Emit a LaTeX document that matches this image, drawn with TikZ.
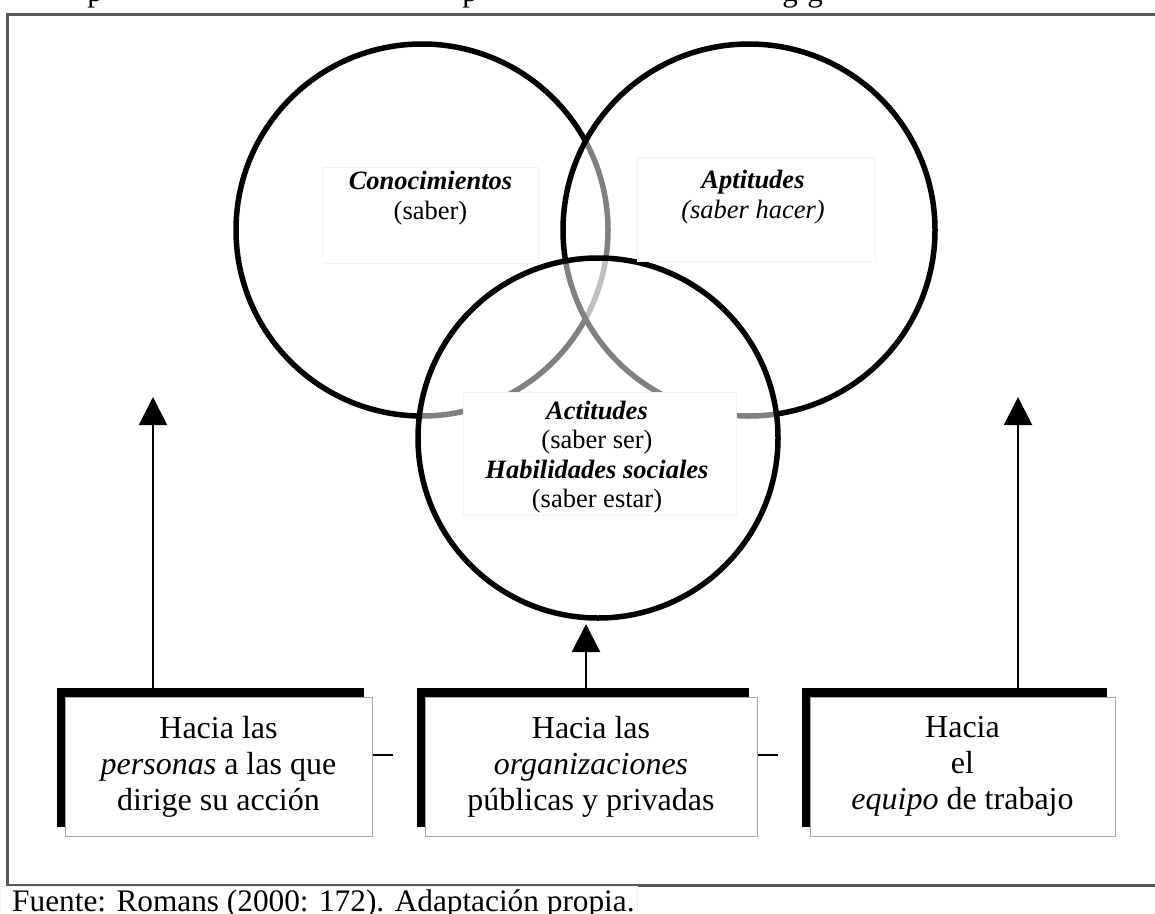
\documentclass[tikz,border=0pt]{standalone}
\usepackage{fontspec}
\setmainfont{Liberation Serif}
\usetikzlibrary{shadows,arrows.meta}
\begin{document}
\begin{tikzpicture}[x=1pt,y=-1pt,
  ring/.style={circle, inner sep=0pt, line width=5.5pt, draw=black},
  glass/.style={ring, fill=white, fill opacity=0.5},
  lblbox/.style={draw=black!5, line width=0.8pt, fill=white, inner sep=0pt},
  lbltext/.style={align=center, inner sep=0pt, font=\fontsize{26.5}{29.5}\selectfont},
  target/.style={draw=black!35, line width=1pt, fill=white, align=center, inner sep=0pt,
     general shadow={fill=black, shadow xshift=-8pt, shadow yshift=9pt},
     font=\fontsize{32}{36}\selectfont},
  uparrow/.style={line width=2pt, -{Triangle[length=28pt,width=28pt]}},
  stub/.style={line width=1.5pt},
  frameline/.style={line width=3pt, draw=black!65},
  frag/.style={inner sep=0pt, font=\fontsize{31}{36}\selectfont}
]
\useasboundingbox (0,0) rectangle (1155,913);

% cut-off text line at the top of the reference
\begin{scope}
\clip (0,0) rectangle (1155,12);
\node[frag, anchor=base] (f1) at (95,1) {p};
\node[frag, anchor=base] (f2) at (470,1) {p};
\node[frag, anchor=base] (f3) at (790,1) {g};
\node[frag, anchor=base] (f4) at (815,1) {g};
\end{scope}

% frame
\coordinate (fTR) at (1165,14);
\coordinate (fTL) at (7,14);
\coordinate (fBL) at (7,885);
\coordinate (fBR) at (1165,885);
\draw[frameline] (fTR) -- (fTL) -- (fBL) -- (fBR);

% circles
\node[ring, fill=white, minimum size=372pt] (cono) at (422,230) {};
\node[glass, minimum size=372pt] (apti) at (749,230) {};
\node[glass, minimum size=360pt] (acti) at (598,438) {};

% labels
\node[lblbox, minimum width=215pt, minimum height=96pt] (kbox) at (430.5,215) {};
\node[lbltext] (ktext) at (430.5,198) {\textbf{\textit{Conocimientos}}\\(saber)};
\node[lblbox, minimum width=238pt, minimum height=104pt] (abox) at (756,209) {};
\node[lbltext] (atext) at (753,197) {\textbf{\textit{Aptitudes}}\\\textit{(saber hacer)}};
\node[lblbox, minimum width=273pt, minimum height=123pt] (cbox) at (599.5,453.5) {};
\node[lbltext] (ctext) at (597,457) {\textbf{\textit{Actitudes}}\\(saber ser)\\\textbf{\textit{Habilidades sociales}}\\(saber estar)};

% target boxes
\node[target, minimum width=307pt, minimum height=139pt] (b1) at (218.5,766.5) {Hacia las\\\textit{personas} a las que\\dirige su acción};
\node[target, minimum width=332pt, minimum height=139pt] (b2) at (591,766.5) {Hacia las\\\textit{organizaciones}\\públicas y privadas};
\node[target, minimum width=305pt, minimum height=139pt] (b3) at (962.5,766.5) {Hacia\\el\\\textit{equipo} de trabajo};

% arrows
\coordinate (tipL) at (153,397);
\coordinate (tipM) at (586,624);
\coordinate (tipR) at (1018,397);
\draw[uparrow] (b1.north -| tipL) -- (tipL);
\draw[uparrow] (b2.north -| tipM) -- (tipM);
\draw[uparrow] (b3.north -| tipR) -- (tipR);

% stubs
\coordinate (s1) at (393,755);
\coordinate (s2) at (778,755);
\draw[stub] (b1.east |- s1) -- (s1);
\draw[stub] (b2.east |- s2) -- (s2);

% caption
\node[fill=white, draw=black!5, minimum width=637pt, minimum height=28pt, inner sep=0pt, anchor=north west] (capbox) at (0,886) {};
\node[anchor=base west, inner sep=0pt, font=\fontsize{31.3}{36}\selectfont] (cap) at (12,911) {Fuente: Romans (2000: 172). Adaptación propia.};
\end{tikzpicture}
\end{document}
